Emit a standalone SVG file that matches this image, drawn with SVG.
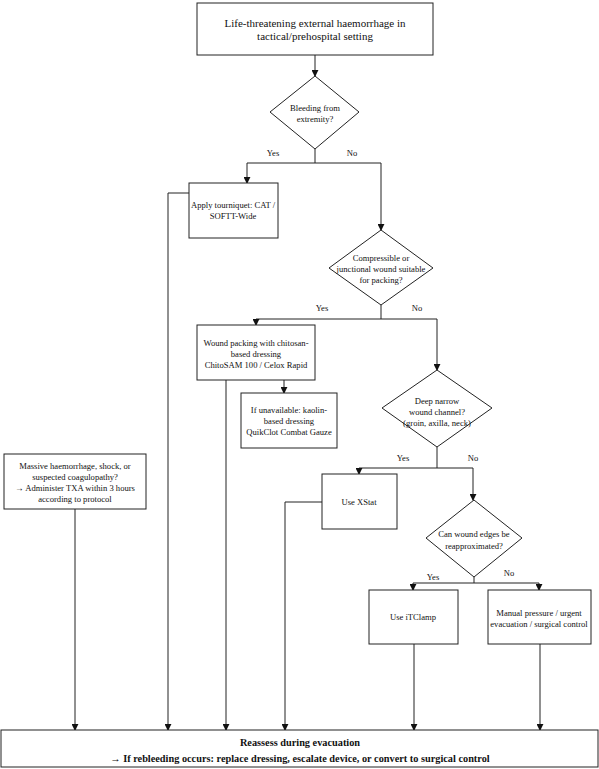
<svg xmlns="http://www.w3.org/2000/svg" width="599" height="769" viewBox="0 0 599 769">
<style>
.box{fill:#fff;stroke:#222;stroke-width:1}
.t{font-family:"Liberation Serif","Times New Roman",serif;font-size:8.6px;fill:#111;text-anchor:middle}
.big{font-size:11px}
.bold{font-weight:bold;font-size:10.3px}
.ln{fill:none;stroke:#222;stroke-width:1}
</style>
<defs>
<marker id="ar" viewBox="0 0 8 8" refX="7" refY="4" markerWidth="7" markerHeight="7" markerUnits="userSpaceOnUse" orient="auto">
<path d="M0,0 L8,4 L0,8 z" fill="#111"/>
</marker>
</defs>
<rect width="599" height="769" fill="#fff"/>
<g id="connectors">
<path class="ln" d="M315,55 V76" marker-end="url(#ar)"/>
<path class="ln" d="M315,149 V163 H247 V183" marker-end="url(#ar)"/>
<path class="ln" d="M315,163 H381 V230" marker-end="url(#ar)"/>
<path class="ln" d="M189,193 H168 V730" marker-end="url(#ar)"/>
<path class="ln" d="M381,305 V319 H256 V325" marker-end="url(#ar)"/>
<path class="ln" d="M381,319 H437 V370" marker-end="url(#ar)"/>
<path class="ln" d="M284,380 V393" marker-end="url(#ar)"/>
<path class="ln" d="M226,380 V730" marker-end="url(#ar)"/>
<path class="ln" d="M437,447 V468 H359 V474" marker-end="url(#ar)"/>
<path class="ln" d="M437,468 H473 V500" marker-end="url(#ar)"/>
<path class="ln" d="M322,502 H285 V730" marker-end="url(#ar)"/>
<path class="ln" d="M474,577 V583 H413 V590" marker-end="url(#ar)"/>
<path class="ln" d="M474,583 H539 V590" marker-end="url(#ar)"/>
<path class="ln" d="M75,509 V730" marker-end="url(#ar)"/>
<path class="ln" d="M414,644 V730" marker-end="url(#ar)"/>
<path class="ln" d="M540,644 V730" marker-end="url(#ar)"/>
<text class="t" x="273" y="156">Yes</text>
<text class="t" x="352" y="156">No</text>
<text class="t" x="322" y="311">Yes</text>
<text class="t" x="417" y="311">No</text>
<text class="t" x="403" y="461">Yes</text>
<text class="t" x="473" y="461">No</text>
<text class="t" x="433" y="580">Yes</text>
<text class="t" x="509" y="576">No</text>
</g>
<g id="start">
<rect class="box" x="197" y="3" width="236" height="52"/>
<text class="t big" x="315" y="27">Life-threatening external haemorrhage in</text>
<text class="t big" x="315" y="40">tactical/prehospital setting</text>
</g>
<g id="d1">
<polygon class="box" points="315,76 359,112 315,149 270,112"/>
<text class="t" x="315" y="111">Bleeding from</text>
<text class="t" x="315" y="122">extremity?</text>
</g>
<g id="tourniquet">
<rect class="box" x="189" y="183" width="89" height="55"/>
<text class="t" x="233" y="208">Apply tourniquet: CAT /</text>
<text class="t" x="233" y="219">SOFTT-Wide</text>
</g>
<g id="d2">
<polygon class="box" points="381,230 433,268 381,305 329,268"/>
<text class="t" x="381" y="261">Compressible or</text>
<text class="t" x="381" y="272">junctional wound suitable</text>
<text class="t" x="381" y="283">for packing?</text>
</g>
<g id="packing">
<rect class="box" x="197" y="325" width="118" height="55"/>
<text class="t" x="256" y="346">Wound packing with chitosan-</text>
<text class="t" x="256" y="357">based dressing</text>
<text class="t" x="256" y="368">ChitoSAM 100 / Celox Rapid</text>
</g>
<g id="kaolin">
<rect class="box" x="241" y="393" width="96" height="55"/>
<text class="t" x="289" y="413">If unavailable: kaolin-</text>
<text class="t" x="289" y="424">based dressing</text>
<text class="t" x="289" y="435">QuikClot Combat Gauze</text>
</g>
<g id="d3">
<polygon class="box" points="437,370 492,408 437,447 382,408"/>
<text class="t" x="437" y="404">Deep narrow</text>
<text class="t" x="437" y="415">wound channel?</text>
<text class="t" x="437" y="426">(groin, axilla, neck)</text>
</g>
<g id="txa">
<rect class="box" x="4" y="454" width="142" height="55"/>
<text class="t" x="75" y="469">Massive haemorrhage, shock, or</text>
<text class="t" x="75" y="480">suspected coagulopathy?</text>
<text class="t" x="75" y="491">→ Administer TXA within 3 hours</text>
<text class="t" x="75" y="502">according to protocol</text>
</g>
<g id="xstat">
<rect class="box" x="322" y="474" width="75" height="55"/>
<text class="t" x="359" y="505">Use XStat</text>
</g>
<g id="d4">
<polygon class="box" points="474,500 522,538 474,577 426,538"/>
<text class="t" x="474" y="537">Can wound edges be</text>
<text class="t" x="474" y="549">reapproximated?</text>
</g>
<g id="itclamp">
<rect class="box" x="369" y="590" width="89" height="54"/>
<text class="t" x="413" y="620">Use iTClamp</text>
</g>
<g id="manual">
<rect class="box" x="488" y="590" width="103" height="54"/>
<text class="t" x="539" y="616">Manual pressure / urgent</text>
<text class="t" x="539" y="627">evacuation / surgical control</text>
</g>
<g id="reassess">
<rect class="box" x="1" y="730" width="597" height="37"/>
<text class="t bold" x="300" y="746">Reassess during evacuation</text>
<text class="t bold" x="300" y="762">→ If rebleeding occurs: replace dressing, escalate device, or convert to surgical control</text>
</g>
</svg>
